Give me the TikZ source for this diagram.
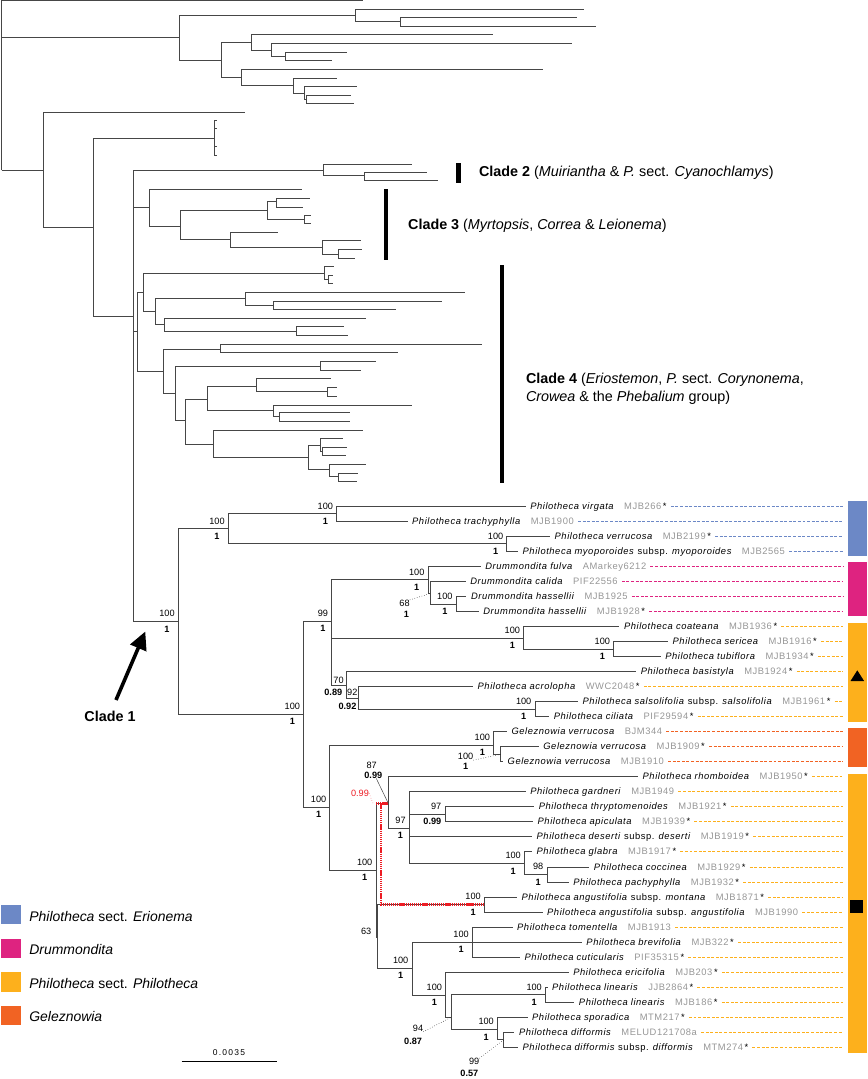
\documentclass[tikz,border=0pt]{standalone}
\usepackage{fontspec}
\setmainfont{Liberation Sans}
\newfontfamily\taxfont[LetterSpace=6]{Liberation Sans}
\usepackage{tikz}
\usetikzlibrary{positioning,arrows.meta}

\definecolor{cEri}{RGB}{108,136,198}
\definecolor{cDru}{RGB}{222,35,128}
\definecolor{cPhi}{RGB}{253,176,28}
\definecolor{cGel}{RGB}{241,99,35}
\definecolor{codegrey}{RGB}{150,150,150}
\definecolor{treegrey}{RGB}{70,70,70}
\definecolor{bpred}{RGB}{237,28,36}

\newcommand{\st}{\textcolor{black}{\,*}}
\newcommand{\bsup}[3]{%
  \node[bs, anchor=south east] (#1t) at ([xshift=-3.5pt,yshift=4.5pt]#1) {#2};
  \node[pp, below=8.5pt of #1t] (#1b) {#3};}
\newcommand{\bsupr}[3]{%
  \node[bs, anchor=south east] (#1t) at ([xshift=-3.5pt,yshift=4.5pt]#1) {#2};
  \node[pp, anchor=north east] (#1b) at ([yshift=-8.5pt]#1t.south east) {#3};}

\begin{document}
\begin{tikzpicture}[x=1bp,y=-1bp,
    branch/.style={draw=treegrey, line width=1bp},
    bs/.style={font=\fontsize{9.2}{10}\selectfont, inner sep=0pt},
    pp/.style={font=\bfseries\fontsize{9.2}{10}\selectfont, inner sep=0pt},
    taxon/.style={font=\taxfont\fontsize{9.4}{10}\selectfont, inner sep=0pt},
    trail/.style={line width=1.5bp, dash pattern=on 3pt off 1.6pt},
    lead/.style={line width=0.5pt, dotted},
    reddot/.style={draw=bpred, line width=2.4pt, dash pattern=on 1.3pt off 0.8pt},
    clade/.style={font=\fontsize{14.4}{18}\selectfont, inner sep=0pt, anchor=west, align=left},
    legbox/.style={minimum width=20bp, minimum height=19.5bp, inner sep=0pt},
    legtext/.style={font=\fontsize{14}{16}\selectfont\itshape, inner sep=0pt, anchor=west}]
    \useasboundingbox (0,0) rectangle (868,1079);

    % upper part of the tree
    \foreach \n/\x/\y in {r/1.7/170, t1/362.8/0.8, a/179.9/37.7, a1/355.1/15, t2/583.6/9,
        a11/400.7/21.7, t3/576.7/17.3, t4/595.9/26, a2/221.2/60, a21/251.8/42.7, t5/492.5/34.7,
        a211/271/50, t6/572.1/43.3, a2111/285.5/56, t7/346.7/52, t8/332.2/60.7, a22/241.9/77.3,
        t9/543.4/69.3, a221/293.1/85.3, t10/336.8/78, a2211/304.6/93.3, t11/356.7/86.7,
        a22111/306.9/99.3, t12/351.3/95, t13/354/103.7, b/43.7/170, t14/245/112, c/93.7/227,
        d/214.3/138, t15/216.7/120.7, t16/216.7/128.7, t17/216.7/146, t18/216.7/155, e/133.3/316.7,
        f/323.9/170, t19/411.9/164, f1/364/175.3, t20/427.2/172.3, t21/437.5/180.7,
        g/149/207.5, t22/302.1/189.5, g1/180.4/226.2, g11/267.2/210.7, g111/276/201.7,
        t23/309.7/198, t24/302.8/207, g112/304.7/219.3, t25/310.5/215.3, t26/310.5/223.3,
        g12/230.1/239.5, t27/278.3/232.3, g121/322/247.3, t28/361.4/240.7, g1211/338/254,
        t29/362.1/249.3, t30/354.5/258,
        h/137.3/331.5, h1/143.8/292.5, h11/324.9/273.3, t31/333.5/266.7, h111/328.7/279,
        t32/332.5/275.7, t33/332.5/283.3, h12/155/311, h121/245.9/298.3, t34/465.1/292.3,
        h1211/273.2/305.7, t35/442.1/301, t36/395.7/309.3, h122/164.6/324.3, t37/365.6/318.3,
        h1221/296.2/331, t38/344/326.7, t39/347.8/335, h2/163.2/371, h21/220.6/349,
        t40/481.8/344.3, t41/397.6/352.7, h22/175.6/393.3, h221/320.1/366, t42/376.1/361.7,
        t43/360.8/370, h222/185.2/420.3, h2221/207.7/399, h22211/256.9/386, t44/330.6/378.3,
        h222111/327.3/391.7, t45/336.8/387.7, t46/336.8/396, h22212/273.2/410, t47/412/405,
        h222121/279.4/416.7, t48/349.8/412.7, t49/349.8/421.7, h2222/213.9/444.3, t50/363.2/430,
        h22221/308.1/457.7, h222211/320.1/445.7, t51/343.1/438.3, h2222111/322.5/451.7,
        t52/347.4/447.7, t53/346.4/455.7, h222212/329.7/469, t54/365.6/464.3,
        h2222121/338.3/476.7, t55/358.4/473.3, t56/357.4/481.7}
        \coordinate (\n) at (\x,\y);

    % clade 1 nodes
    \foreach \n/\x/\y in {k/178.3/621.7, m/228.3/528.9, m1/336.7/513.8, m2/506.9/543.9,
        n/303.7/714, o/331.7/621, q/428.1/579.9, q1/430.7/593.3, q2/456.2/604, s/523.7/638,
        s1/613.7/649.1, t/346/685, u1/358.3/698.3, u2/535/709.2, p/329.9/807.4, gz/493.7/745,
        gz1/500.5/754.3, nD/376/870, nE/388.3/803.3, n97/409.3/828.3, n971/445/814.4,
        n972/524.5/863.5, n973/547/874.5, nG/377.8/937, nH/484.4/904.6, nI/412/968.3,
        nJ/472.4/942.2, nK/445.7/995, nL/451.7/1017, nM/545.5/994.8, nN/497.5/1029.5,
        nO/503.9/1039.9}
        \coordinate (\n) at (\x,\y);

    \coordinate (rt) at (843,0);

    % tips, names and trails
    \foreach \i/\x/\nm/\cd/\cl in {
        0/525.6/{Philotheca virgata}/{MJB266\st}/cEri,
        1/407.5/{Philotheca trachyphylla}/{MJB1900}/cEri,
        2/550/{Philotheca verrucosa}/{MJB2199\st}/cEri,
        3/518/{Philotheca myoporoides \textup{subsp.} myoporoides}/{MJB2565}/cEri,
        4/480.6/{Drummondita fulva}/{AMarkey6212}/cDru,
        5/465.6/{Drummondita calida}/{PIF22556}/cDru,
        6/466.4/{Drummondita hassellii}/{MJB1925}/cDru,
        7/478.7/{Drummondita hassellii}/{MJB1928\st}/cDru,
        8/619.4/{Philotheca coateana}/{MJB1936\st}/cPhi,
        9/668/{Philotheca sericea}/{MJB1916\st}/cPhi,
        10/660.6/{Philotheca tubiflora}/{MJB1934\st}/cPhi,
        11/636.2/{Philotheca basistyla}/{MJB1924\st}/cPhi,
        12/473/{Philotheca acrolopha}/{WWC2048\st}/cPhi,
        13/578/{Philotheca salsolifolia \textup{subsp.} salsolifolia}/{MJB1961\st}/cPhi,
        14/549.2/{Philotheca ciliata}/{PIF29594\st}/cPhi,
        15/506.9/{Geleznowia verrucosa}/{BJM344}/cGel,
        16/538.7/{Geleznowia verrucosa}/{MJB1909\st}/cGel,
        17/503/{Geleznowia verrucosa}/{MJB1910}/cGel,
        18/638/{Philotheca rhomboidea}/{MJB1950\st}/cPhi,
        19/525.6/{Philotheca gardneri}/{MJB1949}/cPhi,
        20/534.2/{Philotheca thryptomenoides}/{MJB1921\st}/cPhi,
        21/533/{Philotheca apiculata}/{MJB1939\st}/cPhi,
        22/532/{Philotheca deserti \textup{subsp.} deserti}/{MJB1919\st}/cPhi,
        23/532/{Philotheca glabra}/{MJB1917\st}/cPhi,
        24/589.3/{Philotheca coccinea}/{MJB1929\st}/cPhi,
        25/568.7/{Philotheca pachyphylla}/{MJB1932\st}/cPhi,
        26/517/{Philotheca angustifolia \textup{subsp.} montana}/{MJB1871\st}/cPhi,
        27/542.5/{Philotheca angustifolia \textup{subsp.} angustifolia}/{MJB1990}/cPhi,
        28/512.5/{Philotheca tomentella}/{MJB1913}/cPhi,
        29/581.8/{Philotheca brevifolia}/{MJB322\st}/cPhi,
        30/520/{Philotheca cuticularis}/{PIF35315\st}/cPhi,
        31/568.7/{Philotheca ericifolia}/{MJB203\st}/cPhi,
        32/547.5/{Philotheca linearis}/{JJB2864\st}/cPhi,
        33/574.3/{Philotheca linearis}/{MJB186\st}/cPhi,
        34/527.5/{Philotheca sporadica}/{MTM217\st}/cPhi,
        35/514.4/{Philotheca difformis}/{MELUD121708a}/cPhi,
        36/518/{Philotheca difformis \textup{subsp.} difformis}/{MTM274\st}/cPhi}{
        \pgfmathsetmacro\yy{floor(506.3+15.03*\i)+0.5}
        \coordinate (L\i) at (\x,\yy);
        \node[taxon, anchor=base west] (T\i) at ([xshift=4.5pt,yshift=-3.3pt]L\i)
            {\textit{\nm}\hspace{10pt}\textcolor{codegrey}{\cd}};
        \draw[trail, draw=\cl] ([xshift=4pt]T\i.east |- L\i) -- (L\i -| rt);
    }

    % branches
    \foreach \p/\c in {r/t1, r/a, a/a1, a1/t2, a1/a11, a11/t3, a11/t4, a/a2, a2/a21, a21/t5,
        a21/a211, a211/t6, a211/a2111, a2111/t7, a2111/t8, a2/a22, a22/t9, a22/a221, a221/t10,
        a221/a2211, a2211/t11, a2211/a22111, a22111/t12, a22111/t13, r/b, b/t14, b/c, c/d,
        d/t15, d/t16, d/t17, d/t18, c/e, e/f, f/t19, f/f1, f1/t20, f1/t21, e/g, g/t22, g/g1,
        g1/g11, g11/g111, g111/t23, g111/t24, g11/g112, g112/t25, g112/t26, g1/g12, g12/t27,
        g12/g121, g121/t28, g121/g1211, g1211/t29, g1211/t30, e/h, h/h1, h1/h11, h11/t31,
        h11/h111, h111/t32, h111/t33, h1/h12, h12/h121, h121/t34, h121/h1211, h1211/t35,
        h1211/t36, h12/h122, h122/t37, h122/h1221, h1221/t38, h1221/t39, h/h2, h2/h21,
        h21/t40, h21/t41, h2/h22, h22/h221, h221/t42, h221/t43, h22/h222, h222/h2221,
        h2221/h22211, h22211/t44, h22211/h222111, h222111/t45, h222111/t46, h2221/h22212,
        h22212/t47, h22212/h222121, h222121/t48, h222121/t49, h222/h2222, h2222/t50,
        h2222/h22221, h22221/h222211, h222211/t51, h222211/h2222111, h2222111/t52,
        h2222111/t53, h22221/h222212, h222212/t54, h222212/h2222121, h2222121/t55,
        h2222121/t56,
        e/k, k/m, m/m1, m1/L0, m1/L1, m/m2, m2/L2, m2/L3, k/n, n/o, o/q, q/L4, q/q1, q1/L5,
        q1/q2, q2/L6, q2/L7, o/s, s/L8, s/s1, s1/L9, s1/L10, o/t, t/L11, t/u1, u1/L12, u1/u2,
        u2/L13, u2/L14, n/p, p/gz, gz/L15, gz/gz1, gz1/L16, gz1/L17, p/nD, nD/nE, nE/L18,
        nE/n97, n97/L19, n97/n971, n971/L20, n971/L21, n97/L22, n97/n972, n972/L23,
        n972/n973, n973/L24, n973/L25, nD/nG, nG/nH, nH/L26, nH/L27, nG/nI, nI/nJ, nJ/L28,
        nJ/L29, nJ/L30, nI/nK, nK/L31, nK/nL, nL/nM, nM/L32, nM/L33, nL/nN, nN/L34, nN/nO,
        nO/L35, nO/L36}
        \draw[branch] (\p) |- (\c);

    % bayesian alternative
    \coordinate (R0) at (nD |- nE);
    \coordinate (R1) at (381.3,803.3);
    \draw[reddot] (R0) -- (nE);
    \draw[reddot] (R1) |- (nH);

    % support values
    \bsup{k}{100}{1}
    \bsup{m}{100}{1}
    \bsup{m1}{100}{1}
    \bsup{m2}{100}{1}
    \bsup{n}{100}{1}
    \bsup{o}{99}{1}
    \bsup{q}{100}{1}
    \bsup{q2}{100}{1}
    \bsup{s}{100}{1}
    \bsup{s1}{100}{1}
    \bsup{u2}{100}{1}
    \bsup{p}{100}{1}
    \bsup{gz}{100}{1}
    \bsup{nD}{100}{1}
    \bsup{n97}{97}{1}
    \bsupr{n971}{97}{0.99}
    \bsup{n972}{100}{1}
    \bsup{n973}{98}{1}
    \bsup{nH}{100}{1}
    \bsup{nI}{100}{1}
    \bsup{nJ}{100}{1}
    \bsup{nK}{100}{1}
    \bsup{nM}{100}{1}
    \bsup{nN}{100}{1}

    \node[bs] (q1t) at (404.5,603.3) {68};
    \node[pp] (q1b) at (406.4,614) {1};
    \draw[lead] (q1t.north east) -- (q1);
    \node[bs] (tt) at (338.5,680.5) {70};
    \node[pp] (tb) at (333.3,692) {0.89};
    \node[bs] (u1t) at (352.3,692.3) {92};
    \node[pp] (u1b) at (347.5,706) {0.92};
    \node[bs] (gz1t) at (465.6,756.7) {100};
    \node[pp] (gz1b) at (465.6,766.7) {1};
    \draw[lead] (gz1t.south east) -- (gz1);
    \node[bs] (nEt) at (371.7,765) {87};
    \node[pp] (nEb) at (373.3,775) {0.99};
    \draw[line width=0.5pt, treegrey] ([xshift=3pt]nEb.south) -- (nE);
    \node[bs, bpred] (redt) at (360,793.3) {0.99};
    \draw[lead, bpred] (redt.east) -- ([xshift=-3pt]R0);
    \node[bs] (nGt) at (366.2,931.7) {63};
    \node[bs] (nLt) at (418,1028.3) {94};
    \node[pp] (nLb) at (413.1,1041.7) {0.87};
    \draw[lead] (nLt.south east) -- (nL);
    \node[bs] (nOt) at (474.2,1061.7) {99};
    \node[pp] (nOb) at (469.4,1073.3) {0.57};
    \draw[lead] (nOt.north east) -- (nO);

    % clades
    \fill (456,162.7) rectangle (460.5,182.7);
    \node[clade] (c2) at (478.9,172.7) {\textbf{Clade 2} (\textit{Muiriantha} \& \textit{P.} sect. \textit{Cyanochlamys})};
    \fill (383.8,189.3) rectangle (388,260);
    \node[clade] (c3) at (408,226) {\textbf{Clade 3} (\textit{Myrtopsis}, \textit{Correa} \& \textit{Leionema})};
    \fill (499.5,265) rectangle (504.3,483.3);
    \node[clade] (c4) at (525.8,389) {\textbf{Clade 4} (\textit{Eriostemon}, \textit{P.} sect. \textit{Corynonema},\\\textit{Crowea} \& the \textit{Phebalium} group)};
    \node[clade, anchor=center] (c1) at (110,716) {\textbf{Clade 1}};
    \coordinate (c1a) at (116,700);
    \coordinate (c1b) at (145.3,631.5);
    \draw[line width=3.6pt, -{Triangle[length=18pt,width=17pt]}] (c1a) -- (c1b);

    % group bars
    \fill[cEri] (848,500.5) rectangle (866.5,555.5);
    \fill[cDru] (848,561.7) rectangle (866.5,615.7);
    \fill[cPhi] (848,623.3) rectangle (866.5,721.7);
    \fill[cGel] (848,728.3) rectangle (866.5,766.7);
    \fill[cPhi] (848,774.3) rectangle (866.5,1053.3);
    \fill (850.5,681) -- (857.3,670.3) -- (864.1,681) -- cycle;
    \fill (850,900) rectangle (863,913.3);

    % legend
    \foreach \j/\cl/\txt in {0/cEri/{Philotheca \textup{sect.} Erionema}, 1/cDru/{Drummondita},
        2/cPhi/{Philotheca \textup{sect.} Philotheca}, 3/cGel/{Geleznowia}}{
        \node[legbox, fill=\cl] (K\j) at (11,914.7+33.55*\j) {};
        \node[legtext] (KT\j) at ([xshift=8pt,yshift=-1.5pt]K\j.east) {\txt};
    }

    % scale bar
    \coordinate (sb1) at (181.7,1061.7);
    \coordinate (sb2) at (276.7,1061.7);
    \draw[line width=1.5pt] (sb1) -- (sb2);
    \node[font=\taxfont\addfontfeature{LetterSpace=15}\fontsize{8.5}{10}\selectfont, inner sep=0pt] (sbl) at (229,1052.3) {0.0035};
\end{tikzpicture}
\end{document}
